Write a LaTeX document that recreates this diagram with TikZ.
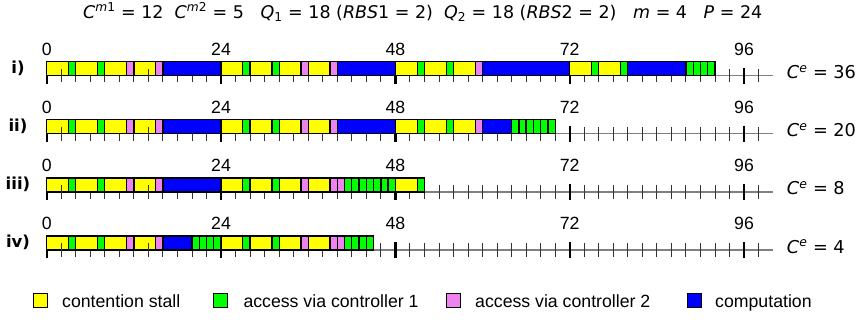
\documentclass[tikz,border=0pt]{standalone}
\usepackage{fontspec}
\setmainfont{Liberation Sans}
\newfontfamily\dv{DejaVu Sans}
\newfontfamily\dvlab{DejaVu Sans Bold}
\definecolor{cY}{HTML}{FFFF00}
\definecolor{cG}{HTML}{00FF00}
\definecolor{cP}{HTML}{EE82EE}
\definecolor{cB}{HTML}{0000FF}
\newcommand\mi[1]{{\itshape #1}}
\newcommand\fs{\fontsize{17.7}{20}\selectfont}
\tikzset{
 cell/.style={draw=black, line width=1.3pt},
 tickmin/.style={line width=0.9pt, black!80},
 tickmaj/.style={line width=2.4pt, black},
 axisline/.style={line width=1.3pt, black!50},
 ticklabel/.style={anchor=base, inner sep=0pt, font=\fs},
 rowlabel/.style={anchor=base, inner sep=0pt, font=\dvlab\fontsize{16.5}{19}\selectfont},
 celabel/.style={anchor=base west, inner sep=0pt, font=\dv\fs},
 legbox/.style={draw=black, line width=1pt, minimum width=14pt, minimum height=14pt, inner sep=0pt},
 legtext/.style={anchor=base west, inner sep=0pt, font=\fs},
}
\newcommand\X[1]{46.7+7.264*#1}
\newcommand\rowaxis[4]{%
  \pgfmathsetmacro\ya{#2+14}
  \draw[axisline] ({\X{0}},\ya) -- ({\X{100}},\ya);
  \foreach \t in {0,2,...,98} \draw[tickmin] ({\X{\t}},{\ya-6.7}) -- ({\X{\t}},{\ya+6.7});
  \foreach \t in {0,24,48,72,96} {
    \draw[tickmaj] ({\X{\t}},{\ya-8}) -- ({\X{\t}},{\ya+7.8});
    \node[ticklabel] (lab#1\t) at ({\X{\t}},{#2-6.7}) {\t};
  }
  \node[rowlabel] (row#1) at (18,{#2+11.3}) {#3};
  \node[celabel] (ce#1) at (786.7,{\ya+3}) {\mi{C}\textsuperscript{\mi{e}} = #4};
}
\newcommand\rowcells[2]{%
  \foreach \cc/\ta/\tb in {#2} \filldraw[cell, fill=\cc] ({\X{\ta}},#1) rectangle ({\X{\tb}},{#1+14});
  \foreach \t in {2,14} \draw[tickmin] ({\X{\t}},{#1+14-6.7}) -- ({\X{\t}},{#1+14+6.7});
}
\begin{document}
\begin{tikzpicture}[x=1pt, y=-1pt]
\useasboundingbox (0,0) rectangle (858,322);
\node[anchor=base west, inner sep=0pt, font=\dv\fontsize{17}{20}\selectfont] (title) at (83,18.3)
 {\resizebox{679pt}{!}{\mi{C}\textsuperscript{\mi{m}1} = 12 \ \mi{C}\textsuperscript{\mi{m}2} = 5 \ \ \mi{Q}\textsubscript{1} = 18 (\mi{RBS}1 = 2) \ \mi{Q}\textsubscript{2} = 18 (\mi{RBS}2 = 2) \ \ \mi{m} = 4 \ \ \mi{P} = 24}};
% axes
\rowaxis{a}{61.7}{i)}{36}
\rowaxis{b}{119.8}{ii)}{20}
\rowaxis{c}{177.9}{iii)}{8}
\rowaxis{d}{236.0}{iv)}{4}
% cells
\rowcells{61.7}{cY/0/3, cG/3/4, cY/4/7, cG/7/8, cY/8/11, cP/11/12, cY/12/15, cP/15/16,
 cB/16/24, cY/24/27, cG/27/28, cY/28/31, cG/31/32, cY/32/35, cP/35/36, cY/36/39, cP/39/40,
 cB/40/48, cY/48/51, cG/51/52, cY/52/55, cG/55/56, cY/56/59, cP/59/60, cB/60/72,
 cY/72/75, cG/75/76, cY/76/79, cG/79/80, cB/80/88, cG/88/89, cG/89/90, cG/90/91, cG/91/92}
\rowcells{119.8}{cY/0/3, cG/3/4, cY/4/7, cG/7/8, cY/8/11, cP/11/12, cY/12/15, cP/15/16,
 cB/16/24, cY/24/27, cG/27/28, cY/28/31, cG/31/32, cY/32/35, cP/35/36, cY/36/39, cP/39/40,
 cB/40/48, cY/48/51, cG/51/52, cY/52/55, cG/55/56, cY/56/59, cP/59/60, cB/60/64,
 cG/64/65, cG/65/66, cG/66/67, cG/67/68, cG/68/69, cG/69/70}
\rowcells{177.9}{cY/0/3, cG/3/4, cY/4/7, cG/7/8, cY/8/11, cP/11/12, cY/12/15, cP/15/16,
 cB/16/24, cY/24/27, cG/27/28, cY/28/31, cG/31/32, cY/32/35, cP/35/36, cY/36/39, cP/39/40,
 cP/40/41, cG/41/42, cG/42/43, cG/43/44, cG/44/45, cG/45/46, cG/46/47, cG/47/48,
 cY/48/51, cG/51/52}
\rowcells{236.0}{cY/0/3, cG/3/4, cY/4/7, cG/7/8, cY/8/11, cP/11/12, cY/12/15, cP/15/16,
 cB/16/20, cG/20/21, cG/21/22, cG/22/23, cG/23/24, cY/24/27, cG/27/28, cY/28/31, cG/31/32,
 cY/32/35, cP/35/36, cY/36/39, cP/39/40, cP/40/41, cG/41/42, cG/42/43, cG/43/44, cG/44/45}
% legend
\node[legbox, fill=cY] (lg1) at (40,300.8) {};
\node[legtext] (lt1) at (62,307.5) {contention stall};
\node[legbox, fill=cG] (lg2) at (220.5,300.8) {};
\node[legtext] (lt2) at (243.3,307.5) {access via controller 1};
\node[legbox, fill=cP] (lg3) at (453.5,300.8) {};
\node[legtext] (lt3) at (475,307.5) {access via controller 2};
\node[legbox, fill=cB] (lg4) at (694,300.8) {};
\node[legtext] (lt4) at (715,307.5) {computation};
\end{tikzpicture}
\end{document}
